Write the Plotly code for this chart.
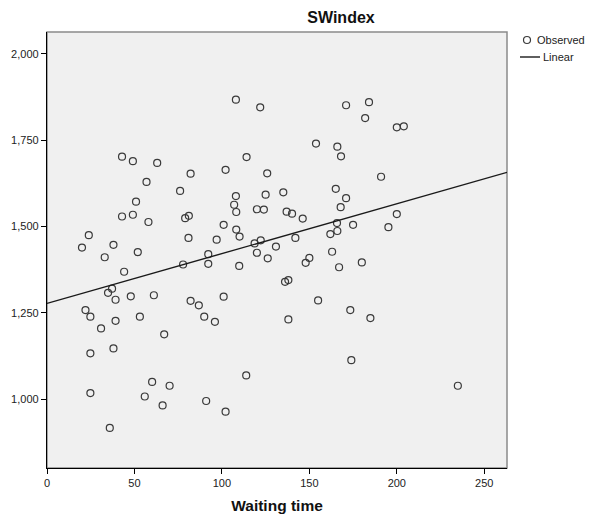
import numpy as np
import plotly.graph_objects as go

title_text = "SWindex"
x_title = "Waiting time"
legend_labels = ["Observed", "Linear"]

waiting_time = [
    42.9, 49.1, 63.0, 82.1, 56.9, 76.1, 50.9, 42.9, 49.1, 58.0,
    79.0, 81.1, 23.9, 80.9, 20.0, 38.0, 33.0, 51.9, 44.1, 77.8,
    37.2, 34.9, 39.2, 47.9, 61.1, 82.1, 86.8, 22.0, 24.8, 39.2,
    53.1, 30.9, 67.0, 24.8, 38.0, 60.1, 70.1, 24.8, 55.9, 66.1,
    35.9, 108.0, 121.9, 171.0, 153.8, 166.0, 168.1, 114.1, 102.1, 125.9,
    165.1, 135.1, 125.0, 108.0, 171.0, 107.0, 167.9, 108.2, 120.0, 124.0,
    137.0, 140.1, 146.2, 165.8, 101.0, 108.2, 110.1, 166.0, 162.0, 97.0,
    118.7, 122.2, 142.0, 130.9, 163.0, 92.2, 92.2, 120.0, 126.2, 109.9,
    150.0, 147.9, 167.0, 136.1, 138.0, 101.0, 89.9, 96.0, 155.0, 173.4,
    138.0, 174.0, 113.9, 91.0, 102.1, 184.1, 181.9, 200.0, 204.0, 191.0,
    200.0, 175.0, 195.2, 180.0, 184.9, 234.9,
]

swindex = [
    1.702, 1.689, 1.684, 1.653, 1.629, 1.603, 1.572, 1.529, 1.534, 1.513,
    1.524, 1.531, 1.475, 1.467, 1.439, 1.447, 1.411, 1.426, 1.369, 1.390,
    1.320, 1.308, 1.288, 1.298, 1.301, 1.285, 1.272, 1.258, 1.239, 1.227,
    1.239, 1.205, 1.188, 1.133, 1.147, 1.050, 1.039, 1.018, 1.008, 0.982,
    0.917, 1.867, 1.845, 1.851, 1.740, 1.731, 1.703, 1.701, 1.664, 1.654,
    1.609, 1.599, 1.592, 1.588, 1.582, 1.563, 1.556, 1.542, 1.550, 1.549,
    1.543, 1.537, 1.523, 1.510, 1.505, 1.491, 1.471, 1.487, 1.478, 1.462,
    1.451, 1.460, 1.467, 1.442, 1.427, 1.420, 1.392, 1.424, 1.408, 1.386,
    1.409, 1.395, 1.382, 1.340, 1.345, 1.297, 1.239, 1.224, 1.286, 1.258,
    1.231, 1.113, 1.069, 0.995, 0.964, 1.860, 1.814, 1.787, 1.790, 1.644,
    1.536, 1.505, 1.498, 1.396, 1.235, 1.039,
]

x_range = [0, 263]
y_range = [0.801, 2.063]
x_ticks = [0, 50, 100, 150, 200, 250]
y_ticks = [1.0, 1.25, 1.5, 1.75, 2.0]

slope, intercept = np.polyfit(waiting_time, swindex, 1)
line_x = np.array(x_range, dtype=float)
line_y = intercept + slope * line_x

FONT = "Arial, Liberation Sans, sans-serif"
OFF = 8  # default page body margin
W, H = 595 - OFF, 520 - OFF
# plot area in window pixels: left 47, top 32, right 507, bottom 468
ML, MT = 47 - OFF, 32 - OFF
MR, MB = W - (507 - OFF), H - (468 - OFF)
PW, PH = W - ML - MR, H - MT - MB


def px_to_paper(px, py):
    """window pixel -> paper coordinates"""
    return (px - OFF - ML) / PW, 1 - (py - OFF - MT) / PH


fig = go.Figure()
fig.add_trace(go.Scatter(
    x=waiting_time, y=swindex, mode="markers", name=legend_labels[0],
    marker=dict(symbol="circle-open", size=7, color="#3a3a3a", line=dict(width=1.2)),
    showlegend=False,
))
fig.add_trace(go.Scatter(
    x=line_x, y=line_y, mode="lines", name=legend_labels[1],
    line=dict(color="#1a1a1a", width=1.4),
    showlegend=False,
))

fig.update_layout(
    width=W, height=H,
    margin=dict(l=ML, r=MR, t=MT, b=MB, autoexpand=False),
    paper_bgcolor="white", plot_bgcolor="#f0f0f0",
    separators=",.",
    font=dict(family=FONT, size=11, color="#222"),
    title=dict(text="<b>" + title_text + "</b>", x=(341 - OFF) / W, xanchor="center",
               y=1 - (17 - OFF) / H, yanchor="middle", font=dict(size=16, color="#111")),
    showlegend=False,
)
fig.update_xaxes(
    range=x_range, tickvals=x_ticks, tickformat="d",
    showgrid=False, zeroline=False,
    showline=True, linecolor="black", linewidth=1.3,
    ticks="outside", ticklen=5, tickcolor="black",
    tickfont=dict(size=11, color="#222"),
    title=dict(text="<b>" + x_title + "</b>", font=dict(size=15.5, color="#111"), standoff=11),
)
fig.update_yaxes(
    range=y_range, tickvals=y_ticks, tickformat=".3f",
    showgrid=False, zeroline=False,
    showline=True, linecolor="black", linewidth=1.3,
    ticks="outside", ticklen=5, tickcolor="black",
    tickfont=dict(size=11, color="#222"),
)
fig.add_shape(type="rect", xref="paper", yref="paper", x0=0, y0=0, x1=1, y1=1,
              line=dict(color="#8a8a8a", width=1.5), fillcolor="rgba(0,0,0,0)", layer="below")

# manual legend (outside the plot area)
cx, cy = px_to_paper(527, 40)
r = 3.5
fig.add_shape(type="circle", xref="paper", yref="paper",
              x0=cx - r / PW, x1=cx + r / PW, y0=cy - r / PH, y1=cy + r / PH,
              line=dict(color="#3a3a3a", width=1.2))
lx0, ly = px_to_paper(520, 57)
lx1, _ = px_to_paper(540, 57)
fig.add_shape(type="line", xref="paper", yref="paper", x0=lx0, x1=lx1, y0=ly, y1=ly,
              line=dict(color="#1a1a1a", width=1.4))
ax1, ay1 = px_to_paper(535, 40)
ax2, ay2 = px_to_paper(541, 57)
fig.add_annotation(text=legend_labels[0], xref="paper", yref="paper", x=ax1, y=ay1,
                   xanchor="left", yanchor="middle", showarrow=False,
                   font=dict(size=11, color="#222"))
fig.add_annotation(text=legend_labels[1], xref="paper", yref="paper", x=ax2, y=ay2,
                   xanchor="left", yanchor="middle", showarrow=False,
                   font=dict(size=11, color="#222"))

fig.write_html("out.html")
